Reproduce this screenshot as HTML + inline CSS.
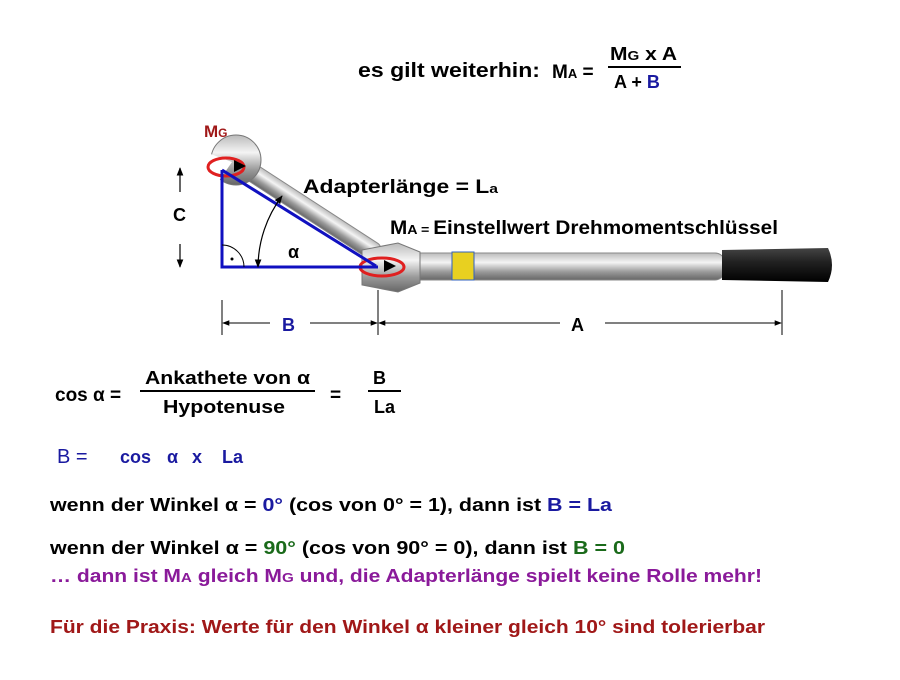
<!DOCTYPE html>
<html><head><meta charset="utf-8"><style>
body{margin:0;background:#fff;}
svg text{font-family:"Liberation Sans",sans-serif;font-weight:bold;}
</style></head><body>
<svg width="900" height="675" xmlns="http://www.w3.org/2000/svg">
<defs>
<linearGradient id="sil" x1="0" y1="0" x2="0" y2="1">
<stop offset="0" stop-color="#bbb"/><stop offset="0.35" stop-color="#f4f4f4"/><stop offset="0.7" stop-color="#999"/><stop offset="1" stop-color="#666"/></linearGradient>
<linearGradient id="blk" x1="0" y1="0" x2="0" y2="1">
<stop offset="0" stop-color="#444"/><stop offset="0.4" stop-color="#222"/><stop offset="1" stop-color="#000"/></linearGradient>
<marker id="ar" viewBox="0 0 10 10" refX="9" refY="5" markerWidth="7" markerHeight="7" orient="auto-start-reverse"><path d="M0,1 L10,5 L0,9 z" fill="#000"/></marker>
</defs>
<text x="358" y="77" font-size="20" textLength="182" lengthAdjust="spacingAndGlyphs">es gilt weiterhin:</text>
<text x="552" y="78" font-size="19">M<tspan font-size="13">A</tspan> =</text>
<text x="610" y="60" font-size="18" textLength="67" lengthAdjust="spacingAndGlyphs">M<tspan font-size="13">G</tspan> x A</text>
<line x1="608" y1="67" x2="681" y2="67" stroke="#000" stroke-width="2"/>
<text x="614" y="88" font-size="18">A + <tspan fill="#1a1aa0">B</tspan></text>

<g transform="translate(236,162) rotate(33)">
<rect x="0" y="-9" width="170" height="18" rx="7" fill="url(#sil)" stroke="#888"/>
</g>
<circle cx="236" cy="160" r="25" fill="url(#sil)" stroke="#777"/>
<path d="M200,150 L232,162 L214,188 L196,176 Z" fill="#fff"/>
<rect x="405" y="253" width="320" height="27" rx="10" fill="url(#sil)" stroke="#888"/>
<rect x="452" y="252" width="22" height="28" fill="#e8d020" stroke="#3060c0"/>
<path d="M722,250 L828,248 Q836,265 828,282 L722,280 Z" fill="url(#blk)"/>
<path d="M362,250 L398,243 L420,252 L420,283 L398,292 L362,285 Z" fill="url(#sil)" stroke="#777"/>
<ellipse cx="382" cy="267" rx="22" ry="9" fill="none" stroke="#e02020" stroke-width="3"/>
<ellipse cx="226" cy="167" rx="18" ry="9" fill="none" stroke="#e02020" stroke-width="3"/>
<path d="M234,160 L246,166 L234,172 Z" fill="#000"/>
<path d="M384,260 L396,266 L384,272 Z" fill="#000"/>

<polyline points="222,170 222,267 378,267" fill="none" stroke="#1010c0" stroke-width="3"/>
<line x1="222" y1="170" x2="376" y2="266" stroke="#1010c0" stroke-width="3"/>
<path d="M222,245 A22,22 0 0 1 244,267" fill="none" stroke="#000" stroke-width="1"/>
<circle cx="232" cy="259" r="1.5" fill="#000"/>
<path d="M258,267 A120,120 0 0 1 282,196" fill="none" stroke="#000" stroke-width="1.2" marker-start="url(#ar)" marker-end="url(#ar)"/>
<text x="288" y="258" font-size="18">α</text>
<line x1="180" y1="168" x2="180" y2="267" stroke="#000" stroke-width="1.2" marker-start="url(#ar)" marker-end="url(#ar)" stroke-dasharray="24 52"/>
<text x="173" y="221" font-size="18">C</text>
<text x="204" y="137" font-size="17" fill="#a01818">M<tspan font-size="12">G</tspan></text>
<text x="303" y="193" font-size="19" textLength="195" lengthAdjust="spacingAndGlyphs">Adapterlänge = L<tspan font-size="13">a</tspan></text>
<text x="390" y="234" font-size="19" textLength="388" lengthAdjust="spacingAndGlyphs">M<tspan font-size="13">A</tspan><tspan font-size="13"> = </tspan>Einstellwert Drehmomentschlüssel</text>
<line x1="222" y1="300" x2="222" y2="335" stroke="#000"/>
<line x1="378" y1="290" x2="378" y2="335" stroke="#000"/>
<line x1="782" y1="290" x2="782" y2="335" stroke="#000"/>
<line x1="223" y1="323" x2="270" y2="323" stroke="#000" marker-start="url(#ar)"/>
<line x1="310" y1="323" x2="377" y2="323" stroke="#000" marker-end="url(#ar)"/>
<line x1="379" y1="323" x2="560" y2="323" stroke="#000" marker-start="url(#ar)"/>
<line x1="605" y1="323" x2="781" y2="323" stroke="#000" marker-end="url(#ar)"/>
<text x="282" y="331" font-size="18" fill="#1a1aa0">B</text>
<text x="571" y="331" font-size="18">A</text>

<text x="55" y="401" font-size="19">cos α =</text>
<text x="145" y="384" font-size="18" textLength="165" lengthAdjust="spacingAndGlyphs">Ankathete von α</text>
<line x1="140" y1="391" x2="315" y2="391" stroke="#000" stroke-width="2"/>
<text x="163" y="413" font-size="18" textLength="122" lengthAdjust="spacingAndGlyphs">Hypotenuse</text>
<text x="330" y="401" font-size="19">=</text>
<text x="373" y="384" font-size="18">B</text>
<line x1="368" y1="391" x2="401" y2="391" stroke="#000" stroke-width="2"/>
<text x="374" y="413" font-size="18">La</text>
<text x="57" y="463" font-size="20" fill="#1a1aa0" style="font-weight:normal">B =</text>
<text x="120" y="463" font-size="18" fill="#1a1aa0">cos</text>
<text x="167" y="463" font-size="18" fill="#1a1aa0">α</text>
<text x="192" y="463" font-size="18" fill="#1a1aa0">x</text>
<text x="222" y="463" font-size="18" fill="#1a1aa0">La</text>

<text x="50" y="511" font-size="18" textLength="562" lengthAdjust="spacingAndGlyphs">wenn der Winkel α = <tspan fill="#1a1aa0">0°</tspan> (cos von 0° = 1), dann ist <tspan fill="#1a1aa0">B = La</tspan></text>
<text x="50" y="554" font-size="18" textLength="575" lengthAdjust="spacingAndGlyphs">wenn der Winkel α = <tspan fill="#1a6a1a">90°</tspan> (cos von 90° = 0), dann ist <tspan fill="#1a6a1a">B = 0</tspan></text>
<text x="50" y="582" font-size="18" fill="#8a1a9a" textLength="712" lengthAdjust="spacingAndGlyphs">… dann ist M<tspan font-size="13">A</tspan> gleich M<tspan font-size="13">G</tspan> und, die Adapterlänge spielt keine Rolle mehr!</text>
<text x="50" y="633" font-size="18" fill="#a01818" textLength="715" lengthAdjust="spacingAndGlyphs">Für die Praxis: Werte für den Winkel α kleiner gleich 10° sind tolerierbar</text>
</svg>
</body></html>
